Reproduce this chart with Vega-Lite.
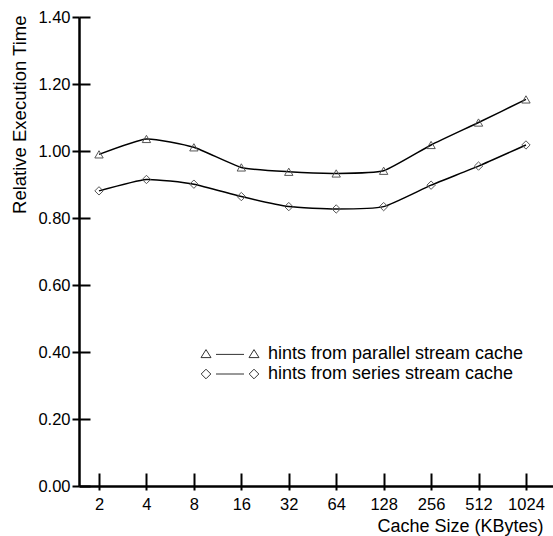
{
  "$schema": "https://vega.github.io/schema/vega-lite/v6.json",
  "width": 474,
  "height": 469,
  "autosize": {"type": "none"},
  "padding": {"left": 79, "top": 17, "right": 0, "bottom": 50},
  "background": "white",
  "title": {"text": "(a)", "fontSize": 17, "font": "Liberation Sans", "fontWeight": "normal", "baseline": "alphabetic", "offset": 17, "dx": -15, "color": "black"},
  "config": {"view": {"stroke": null}, "font": "Liberation Sans"},
  "data": {
    "values": [
      {"size": 2, "time": 0.99, "series": "hints from parallel stream cache"},
      {"size": 4, "time": 1.036, "series": "hints from parallel stream cache"},
      {"size": 8, "time": 1.011, "series": "hints from parallel stream cache"},
      {"size": 16, "time": 0.951, "series": "hints from parallel stream cache"},
      {"size": 32, "time": 0.938, "series": "hints from parallel stream cache"},
      {"size": 64, "time": 0.933, "series": "hints from parallel stream cache"},
      {"size": 128, "time": 0.941, "series": "hints from parallel stream cache"},
      {"size": 256, "time": 1.018, "series": "hints from parallel stream cache"},
      {"size": 512, "time": 1.085, "series": "hints from parallel stream cache"},
      {"size": 1024, "time": 1.154, "series": "hints from parallel stream cache"},
      {"size": 2, "time": 0.881, "series": "hints from series stream cache"},
      {"size": 4, "time": 0.915, "series": "hints from series stream cache"},
      {"size": 8, "time": 0.901, "series": "hints from series stream cache"},
      {"size": 16, "time": 0.864, "series": "hints from series stream cache"},
      {"size": 32, "time": 0.834, "series": "hints from series stream cache"},
      {"size": 64, "time": 0.827, "series": "hints from series stream cache"},
      {"size": 128, "time": 0.834, "series": "hints from series stream cache"},
      {"size": 256, "time": 0.898, "series": "hints from series stream cache"},
      {"size": 512, "time": 0.955, "series": "hints from series stream cache"},
      {"size": 1024, "time": 1.018, "series": "hints from series stream cache"}
    ]
  },
  "layer": [
    {
      "mark": {"type": "line", "color": "black", "strokeWidth": 1.5, "interpolate": "cardinal", "tension": 0.5},
      "encoding": {
        "x": {
          "field": "size", "type": "quantitative",
          "scale": {"type": "log", "base": 2, "domain": [1.493, 1520], "nice": false},
          "axis": {
            "orient": "bottom", "values": [2, 4, 8, 16, 32, 64, 128, 256, 512, 1024], "format": "d",
            "tickSize": 4, "tickWidth": 2, "tickColor": "black", "domainColor": "black", "domainWidth": 2.5,
            "labelFontSize": 16.5, "labelColor": "black", "labelPadding": 6, "grid": false,
            "title": "Cache Size (KBytes)", "titleFontSize": 18, "titleFontWeight": "normal",
            "titleAnchor": "end", "titleAlign": "right", "titleX": 464, "titleY": 31, "titleBaseline": "top", "titleColor": "black"
          }
        },
        "y": {
          "field": "time", "type": "quantitative",
          "scale": {"domain": [0, 1.4], "nice": false},
          "axis": {
            "orient": "left", "values": [0, 0.2, 0.4, 0.6, 0.8, 1.0, 1.2, 1.4], "format": ".2f",
            "tickSize": 7, "tickWidth": 2, "tickColor": "black", "domainColor": "black", "domainWidth": 2.5,
            "labelFontSize": 16.5, "labelColor": "black", "labelPadding": 2, "grid": false,
            "title": "Relative Execution Time", "titleFontSize": 18.5, "titleFontWeight": "normal",
            "titleAngle": -90, "titleAlign": "right", "titleBaseline": "middle", "titleX": -60, "titleY": -2, "titleColor": "black"
          }
        },
        "detail": {"field": "series"}
      }
    },
    {
      "mark": {"type": "point", "filled": false, "color": "#555", "strokeWidth": 1, "opacity": 1},
      "encoding": {
        "x": {
          "field": "size", "type": "quantitative",
          "axis": {"orient": "bottom", "values": [2, 4, 8, 16, 32, 64, 128, 256, 512, 1024], "tickSize": -13, "tickWidth": 2, "tickColor": "black", "labels": false, "domain": false, "title": null, "grid": false}
        },
        "y": {
          "field": "time", "type": "quantitative",
          "axis": {"orient": "left", "values": [0, 0.2, 0.4, 0.6, 0.8, 1.0, 1.2, 1.4], "tickSize": -11, "tickWidth": 2, "tickColor": "black", "labels": false, "domain": false, "title": null, "grid": false}
        },
        "shape": {
          "field": "series", "type": "nominal",
          "scale": {"range": ["triangle-up", "diamond"]},
          "legend": null
        },
        "size": {"value": 70}
      }
    },
    {
      "mark": {"type": "point", "filled": false, "color": "#333", "strokeWidth": 1, "opacity": 0},
      "encoding": {
        "x": {"field": "size", "type": "quantitative", "axis": null},
        "y": {"field": "time", "type": "quantitative", "axis": null},
        "shape": {
          "field": "series", "type": "nominal",
          "scale": {"range": [
            "M-7.25,0.9L-6,-1.1L-4.75,0.9ZM-3.5,0.1L3.5,0.1M4.75,0.9L6,-1.1L7.25,0.9Z",
            "M-7.2,0L-6,-1.2L-4.8,0L-6,1.2ZM-3.5,0L3.5,0M4.8,0L6,-1.2L7.2,0L6,1.2Z"
          ]},
          "legend": {
            "orient": "none", "legendX": 142, "legendY": 328, "title": null, "padding": 0,
            "labelFontSize": 18, "labelColor": "black", "labelOffset": 29, "labelLimit": 400,
            "symbolSize": 64, "symbolStrokeColor": "#333", "symbolStrokeWidth": 1, "symbolFillColor": "transparent",
            "symbolOpacity": 1, "rowPadding": 2
          }
        }
      }
    }
  ],
  "resolve": {"axis": {"x": "independent", "y": "independent"}, "scale": {"shape": "independent"}}
}
